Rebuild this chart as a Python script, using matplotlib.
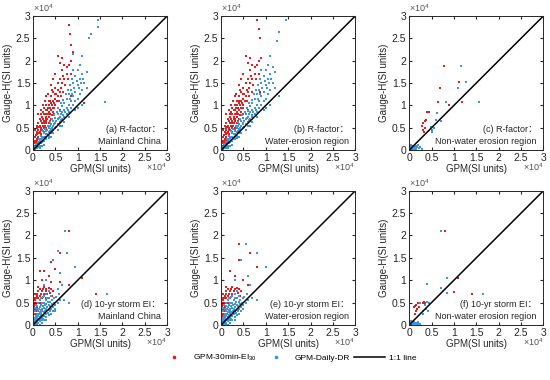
import numpy as np
import matplotlib.pyplot as plt
from matplotlib.ticker import FuncFormatter
from matplotlib.lines import Line2D

plt.rcParams['font.family'] = ['Liberation Sans', 'Noto Sans CJK SC', 'DejaVu Sans']
plt.rcParams['mathtext.fontset'] = 'custom'
plt.rcParams['mathtext.rm'] = 'Liberation Sans'

# values in units of 1e4 (SI units / 1e4), (GPM, Gauge-H) pairs
red_core_r = [(0.02,0.1),(0.03,0.2),(0.05,0.15),(0.05,0.3),(0.08,0.25),(0.08,0.4),(0.1,0.2),(0.1,0.35),
              (0.1,0.5),(0.12,0.3),(0.12,0.45),(0.15,0.25),(0.15,0.4),(0.15,0.55),(0.15,0.7),(0.18,0.35),
              (0.18,0.5),(0.18,0.65),(0.2,0.3),(0.2,0.45),(0.2,0.6),(0.2,0.75),(0.22,0.55),(0.22,0.85),
              (0.25,0.4),(0.25,0.5),(0.25,0.65),(0.25,0.8),(0.25,0.95),(0.28,0.6),(0.28,0.75),(0.28,0.9),
              (0.3,0.5),(0.3,0.65),(0.3,0.8),(0.3,1.0),(0.32,0.7),(0.32,0.9),(0.35,0.6),(0.35,0.75),
              (0.35,0.85),(0.35,1.0),(0.35,1.1),(0.38,0.8),(0.38,0.95),(0.4,0.7),(0.4,0.9),(0.4,1.05),
              (0.4,1.2),(0.42,1.0),(0.45,0.85),(0.45,1.1),(0.45,1.3),(0.48,0.95),(0.5,1.0),(0.5,1.15),
              (0.5,1.4),(0.55,1.2),(0.55,1.5),(0.6,1.3),(0.6,1.6),(0.62,1.4),(0.65,1.5),(0.65,1.8),
              (0.7,1.6),(0.7,1.9),(0.75,1.7),(0.75,1.85),(0.8,1.9),(0.85,2.0),(0.85,1.7),(0.55,2.1),
              (0.6,1.95),(0.4,1.45),(0.3,1.2),(0.45,1.6),(0.5,1.7),(0.05,0.45),(0.08,0.55),(0.12,0.6),
              (0.12,0.8),(0.17,0.9),(0.22,1.0),(0.27,1.1),(0.33,1.25),(0.42,1.35),(0.52,1.25),(0.58,1.1),
              (0.6,0.9),(0.48,0.8),(0.02,0.05),(0.04,0.1),(0.06,0.2),(0.1,0.1),(0.14,0.15),(0.68,1.3),
              (0.07,0.33),(0.13,0.38),(0.17,0.45),(0.23,0.7),(0.27,0.55),(0.33,0.8),(0.37,0.65),(0.43,0.78),
              (0.47,1.05),(0.53,1.1),(0.57,1.35),(0.63,1.2),(0.67,1.65),(0.72,1.45),(0.78,1.6),(0.09,0.15),
              (0.14,0.52),(0.19,0.8),(0.24,0.6),(0.29,0.7),(0.34,0.95),(0.39,1.1),(0.44,0.95),(0.49,1.25)]
red_out_a = [(0.8,2.8),(0.82,2.6),(0.85,2.35),(0.9,2.2),(0.7,3.0),(0.95,3.0),(1.15,3.0),(1.3,3.0),
             (1.15,1.05),(0.85,1.2),(0.65,2.05)]
red_out_b = [(0.8,2.9),(0.85,2.7),(0.86,2.5),(0.9,2.05),(0.92,3.0),(0.88,1.3),(0.65,2.05)]

blue_core_r = [(0.02,0.02),(0.05,0.03),(0.05,0.08),(0.08,0.1),(0.1,0.05),(0.1,0.12),(0.12,0.18),(0.15,0.1),
               (0.15,0.2),(0.18,0.15),(0.18,0.25),(0.2,0.18),(0.2,0.28),(0.22,0.3),(0.25,0.2),(0.25,0.3),
               (0.25,0.38),(0.28,0.25),(0.28,0.35),(0.3,0.3),(0.3,0.42),(0.32,0.35),(0.32,0.45),(0.35,0.32),
               (0.35,0.4),(0.35,0.5),(0.38,0.42),(0.38,0.55),(0.4,0.38),(0.4,0.48),(0.4,0.58),(0.42,0.5),
               (0.45,0.45),(0.45,0.55),(0.45,0.65),(0.48,0.58),(0.5,0.5),(0.5,0.6),(0.5,0.72),(0.52,0.65),
               (0.55,0.58),(0.55,0.7),(0.55,0.8),(0.58,0.72),(0.6,0.62),(0.6,0.75),(0.6,0.88),(0.62,0.8),
               (0.65,0.7),(0.65,0.85),(0.65,0.98),(0.68,0.78),(0.7,0.75),(0.7,0.9),(0.7,1.05),(0.72,0.85),
               (0.75,0.8),(0.75,0.95),(0.75,1.15),(0.78,0.9),(0.8,0.85),(0.8,1.0),(0.8,1.25),(0.85,0.95),
               (0.85,1.1),(0.85,1.35),(0.9,1.0),(0.9,1.2),(0.9,1.5),(0.95,1.1),(0.95,1.3),(1.0,1.15),
               (1.0,1.45),(1.05,1.25),(1.05,1.6),(1.1,1.35),(1.1,1.7),(1.15,1.5),(1.2,1.4),(1.2,1.75),
               (0.95,1.65),(1.0,1.8),(1.05,1.9),(0.9,1.8),(0.95,0.9),(0.6,0.55),(0.3,0.25),(0.12,0.08),
               (0.35,0.28),(0.55,0.45),(0.7,0.62),(1.0,0.95),(1.1,1.0),(0.15,0.05),(0.25,0.12),(0.4,0.3),
               (0.08,0.04),(0.2,0.1),(0.45,0.38),(0.65,0.55),(0.8,0.75),(0.52,0.52),(0.42,0.42),(0.62,0.68),
               (0.07,0.14),(0.13,0.24),(0.17,0.32),(0.23,0.42),(0.27,0.48),(0.33,0.55),(0.37,0.62),(0.43,0.7),
               (0.47,0.78),(0.53,0.86),(0.57,0.95),(0.63,1.05),(0.68,1.12),(0.73,1.25),(0.78,1.35),(0.83,1.45),
               (0.88,1.6),(0.92,1.4),(0.98,1.55),(1.03,1.38),(1.08,1.5),(1.12,1.6),(0.87,1.25),(0.82,1.15)]
blue_out_a = [(1.25,2.5),(1.3,2.6),(1.45,2.75),(1.5,3.0),(1.45,2.9),(1.4,3.0),(1.1,2.1),(0.9,2.15),(1.6,1.08)]
blue_out_b = [(1.25,2.45),(1.3,2.65),(1.5,3.0),(1.45,2.9),(1.1,2.1),(1.15,1.85),(1.3,1.2)]

red_c = [(0.05,0.05),(0.08,0.1),(0.03,0.08),(0.06,0.02),(0.3,0.45),(0.32,0.4),(0.35,0.5),(0.28,0.55),
         (0.3,0.6),(0.35,0.65),(0.37,0.68),(0.4,0.85),(0.45,0.85),(0.65,1.07),(0.68,1.4),(0.78,1.88),
         (0.88,1.0),(1.12,1.52),(1.18,1.07),(1.15,3.0)]
blue_c = [(0.02,0.02),(0.05,0.05),(0.08,0.03),(0.1,0.08),(0.12,0.05),(0.15,0.1),(0.18,0.06),(0.2,0.12),
          (0.22,0.04),(0.25,0.08),(0.05,0.12),(0.1,0.02),(0.15,0.03),(0.03,0.1),(0.28,0.02),(0.07,0.07),
          (0.5,0.4),(0.52,0.45),(0.55,0.5),(0.6,0.68),(0.62,0.84),(0.7,0.65),(0.82,1.07),(1.1,1.38),
          (1.15,1.88),(1.28,1.52),(1.55,1.08),(1.3,3.0),(0.48,0.52)]

red_core_s = [(0.0,0.05),(0.01,0.1),(0.01,0.2),(0.02,0.3),(0.02,0.4),(0.03,0.15),(0.03,0.5),(0.04,0.25),
              (0.04,0.35),(0.05,0.45),(0.05,0.55),(0.06,0.2),(0.06,0.6),(0.07,0.3),(0.07,0.5),(0.08,0.4),
              (0.08,0.65),(0.1,0.5),(0.1,0.7),(0.12,0.6),(0.12,0.75),(0.15,0.65),(0.15,0.8),(0.18,0.7),
              (0.2,0.75),(0.2,0.6),(0.22,0.8),(0.25,0.7),(0.25,0.85),(0.28,0.75),(0.3,0.8),(0.32,0.7),
              (0.35,0.82),(0.38,0.72),(0.4,0.8),(0.42,0.65),(0.45,0.75),(0.1,0.3),(0.02,0.6),(0.04,0.7),
              (0.0,0.35),(0.0,0.25),(0.01,0.45),(0.15,0.5),(0.3,0.6),(0.12,0.85)]
red_out_d = [(0.8,2.1),(0.4,1.4),(0.6,1.6),(0.5,1.25),(0.15,1.2),(0.25,1.2),(0.35,1.1),(0.8,0.9),
             (1.1,1.05),(1.4,0.7),(0.4,0.95),(0.2,1.0),(0.6,0.95)]
red_out_e = [(0.4,1.8),(0.65,1.6),(0.4,1.45),(0.8,1.3),(0.2,1.2),(0.5,1.0),(0.3,1.1),(0.6,0.9)]

blue_core_s = [(0.01,0.01),(0.02,0.05),(0.03,0.1),(0.03,0.02),(0.05,0.08),(0.05,0.15),(0.06,0.03),(0.07,0.12),
               (0.07,0.2),(0.08,0.06),(0.09,0.16),(0.09,0.25),(0.1,0.1),(0.11,0.2),(0.11,0.3),(0.12,0.05),
               (0.12,0.14),(0.13,0.24),(0.13,0.35),(0.14,0.1),(0.15,0.18),(0.15,0.28),(0.15,0.4),(0.16,0.08),
               (0.17,0.22),(0.17,0.33),(0.18,0.14),(0.18,0.45),(0.19,0.26),(0.2,0.1),(0.2,0.18),(0.2,0.36),
               (0.2,0.5),(0.21,0.3),(0.22,0.22),(0.22,0.42),(0.23,0.14),(0.24,0.28),(0.24,0.5),(0.25,0.2),
               (0.25,0.38),(0.26,0.32),(0.27,0.44),(0.28,0.24),(0.28,0.55),(0.29,0.36),(0.3,0.18),(0.3,0.3),
               (0.3,0.46),(0.31,0.6),(0.32,0.4),(0.33,0.26),(0.33,0.52),(0.35,0.34),(0.35,0.45),(0.36,0.6),
               (0.37,0.3),(0.38,0.42),(0.39,0.52),(0.4,0.36),(0.4,0.65),(0.42,0.46),(0.43,0.56),(0.45,0.4),
               (0.46,0.5),(0.48,0.6),(0.5,0.45),(0.05,0.3),(0.08,0.35),(0.1,0.42),(0.06,0.45),(0.12,0.5),
               (0.04,0.38),(0.15,0.55),(0.18,0.6),(0.22,0.62),(0.25,0.65),(0.3,0.7),(0.35,0.75),(0.1,0.02),
               (0.15,0.0),(0.2,0.04),(0.25,0.1),(0.3,0.12),(0.35,0.22),(0.4,0.25),(0.45,0.3),(0.5,0.35),
               (0.55,0.5),(0.6,0.55),(0.52,0.62),(0.58,0.7)]
blue_out_d = [(0.72,2.1),(0.55,1.65),(0.45,1.45),(0.75,1.6),(0.95,1.3),(0.6,1.15),(0.3,1.0),(0.25,0.9),
              (0.55,0.8),(0.65,0.9),(1.65,0.7),(0.8,0.5),(0.7,0.55),(0.5,0.3)]
blue_out_e = [(0.55,1.8),(0.8,1.6),(1.0,1.3),(0.45,1.45),(0.6,1.1),(0.3,1.0),(0.65,0.9),(0.8,0.55),(0.7,0.6)]

red_f = [(0.1,0.4),(0.12,0.42),(0.15,0.45),(0.18,0.35),(0.2,0.48),(0.15,0.3),(0.22,0.4),(0.13,0.25),
         (0.3,0.5),(0.32,0.52),(0.35,0.48),(0.4,0.92),(0.7,0.82),(0.8,2.1),(1.0,0.74),(1.1,1.05),
         (1.4,0.7),(0.02,0.02),(0.05,0.05),(0.03,0.0)]
blue_f = [(0.02,0.02),(0.05,0.04),(0.08,0.02),(0.1,0.06),(0.12,0.03),(0.15,0.05),(0.18,0.02),(0.2,0.07),
          (0.22,0.03),(0.04,0.08),(0.07,0.05),(0.25,0.01),(0.25,0.5),(0.3,0.3),(0.35,0.45),(0.38,0.35),
          (0.4,0.52),(0.45,0.5),(0.42,0.3),(0.72,2.1),(0.72,0.82),(0.85,1.05),(0.85,0.72),(1.65,0.7),
          (0.4,0.92),(0.3,0.25)]

panels = [
    (red_core_r + red_out_a, blue_core_r + blue_out_a, '(a) R-factor：', 'Mainland China'),
    (red_core_r + red_out_b, blue_core_r + blue_out_b, '(b) R-factor：', 'Water-erosion region'),
    (red_c, blue_c, '(c) R-factor：', 'Non-water erosion region'),
    (red_core_s + red_out_d, blue_core_s + blue_out_d, '(d) 10-yr storm EI：', 'Mainland China'),
    (red_core_s + red_out_e, blue_core_s + blue_out_e, '(e) 10-yr storm EI：', 'Water-erosion region'),
    (red_f, blue_f, '(f) 10-yr storm EI：', 'Non-water erosion region'),
]

red = '#e02020'
blue = '#3d95dc'
txt = '#262626'

fig = plt.figure(figsize=(5.5, 3.8), dpi=100)
lefts = [0.060, 0.402, 0.744]
bottoms = [0.605, 0.145]

for i, (rp, bp, lab1, lab2) in enumerate(panels):
    ax = fig.add_axes([lefts[i % 3], bottoms[i // 3], 0.244, 0.353])
    rp = np.array(rp) * 1e4
    bp = np.array(bp) * 1e4
    ax.scatter(rp[:, 0], rp[:, 1], s=4, color=red, marker='s', linewidths=0)
    ax.scatter(bp[:, 0], bp[:, 1], s=4, color=blue, marker='s', linewidths=0)
    ax.plot([0, 3e4], [0, 3e4], color='black', lw=1.1)
    ax.set_xlim(0, 3e4)
    ax.set_ylim(0, 3e4)
    ax.set_xticks(np.arange(0, 3.01e4, 0.5e4))
    ax.set_yticks(np.arange(0, 3.01e4, 0.5e4))
    fmt = FuncFormatter(lambda v, p: f'{v / 1e4:g}')
    ax.xaxis.set_major_formatter(fmt)
    ax.yaxis.set_major_formatter(fmt)
    ax.tick_params(direction='in', length=2.5, labelsize=7.5, top=True, right=True, pad=2,
                   colors=txt)
    ax.text(0.0, 1.015, r'$\times10^4$', transform=ax.transAxes, ha='left', va='bottom',
            fontsize=6.5, color='#555555')
    ax.text(1.0, -0.125, r'$\times10^4$', transform=ax.transAxes, ha='right', va='center',
            fontsize=6.5, color='#555555')
    ax.set_xlabel('GPM(SI units)', fontsize=7, labelpad=1, color=txt)
    ax.set_ylabel('Gauge-H(SI units)', fontsize=7, labelpad=2, color=txt)
    ax.text(0.95, 0.155, lab1, transform=ax.transAxes, ha='right', va='center', fontsize=6.5, color=txt)
    ax.text(0.95, 0.065, lab2, transform=ax.transAxes, ha='right', va='center', fontsize=6.5, color=txt)
    for sp in ax.spines.values():
        sp.set_linewidth(0.7)
        sp.set_color(txt)

handles = [
    Line2D([], [], marker='s', ls='none', color=red, markersize=1.5, label='GPM-30min-EI$_{30}$'),
    Line2D([], [], marker='s', ls='none', color=blue, markersize=1.5, label='GPM-Daily-DR'),
    Line2D([], [], color='black', lw=1.1, label='1:1 line'),
]
fig.legend(handles=handles, loc='center', bbox_to_anchor=(0.522, 0.058), ncol=3, frameon=False,
           fontsize=6, handlelength=3.8, columnspacing=0.4, handletextpad=0.4)

fig.savefig('out.png', dpi=100)
